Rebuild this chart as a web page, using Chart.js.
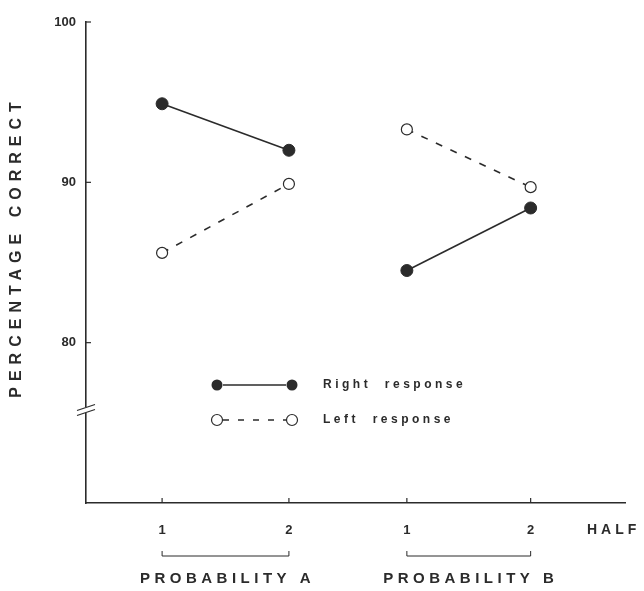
<!DOCTYPE html>
<html lang="en">
<head>
<meta charset="UTF-8">
<title>Percentage correct by half</title>
<script src="https://cdn.jsdelivr.net/npm/chart.js"></script>
<style>
  body { margin: 0; background: #fff; }
  #wrap { width: 644px; height: 591px; }
</style>
</head>
<body>
<div id="wrap"><canvas id="chart" width="644" height="591"></canvas></div>
<script>
// values
const halfLabels = ['1', '2', '1', '2'];
const halfPositions = [1, 2, 2.93, 3.906];
const rightResponse = [94.9, 92.0, 84.5, 88.4];
const leftResponse = [85.6, 89.9, 93.3, 89.7];
const groupNames = ['PROBABILITY A', 'PROBABILITY B'];
const seriesNames = ['Right  response', 'Left  response'];
const yTicks = [80, 90, 100];
const yBreak = 75.8;

const ink = '#2b2b2b';
const boldFont = (size) => 'bold ' + size + 'px "Liberation Sans", Arial, sans-serif';

function toPoints(values) {
    return values.map((v, i) => ({ x: halfPositions[i], y: v }));
}
// no line between the last half of A and the first half of B
const splitGroups = (color) => (ctx) => ctx.p0DataIndex === 1 ? 'transparent' : color;

const decorations = {
    id: 'decorations',
    afterDraw(chart) {
        const ctx = chart.ctx;
        const area = chart.chartArea;
        const x = chart.scales.x;
        const y = chart.scales.y;
        ctx.save();
        ctx.strokeStyle = ink;
        ctx.fillStyle = ink;

        // small inward ticks
        ctx.lineWidth = 1.2;
        yTicks.forEach(v => {
            const py = y.getPixelForValue(v);
            ctx.beginPath();
            ctx.moveTo(area.left, py);
            ctx.lineTo(area.left + 5, py);
            ctx.stroke();
        });
        halfPositions.forEach(v => {
            const px = x.getPixelForValue(v);
            ctx.beginPath();
            ctx.moveTo(px, area.bottom);
            ctx.lineTo(px, area.bottom - 5);
            ctx.stroke();
        });

        // axis break
        const by = y.getPixelForValue(yBreak);
        ctx.fillStyle = '#fff';
        ctx.fillRect(area.left - 3, by - 3, 6, 6);
        ctx.lineWidth = 1.3;
        [-2.5, 2.5].forEach(d => {
            ctx.beginPath();
            ctx.moveTo(area.left - 9, by + d + 3);
            ctx.lineTo(area.left + 9, by + d - 3);
            ctx.stroke();
        });
        ctx.fillStyle = ink;

        // y title
        ctx.save();
        ctx.translate(17, 250);
        ctx.rotate(-Math.PI / 2);
        ctx.font = boldFont(16);
        ctx.letterSpacing = '6px';
        ctx.textAlign = 'center';
        ctx.textBaseline = 'middle';
        ctx.fillText('PERCENTAGE CORRECT', 3, 0);
        ctx.restore();

        // HALF
        ctx.font = boldFont(14);
        ctx.letterSpacing = '4px';
        ctx.textAlign = 'left';
        ctx.textBaseline = 'middle';
        ctx.fillText('HALF', 587, 530);

        // group brackets and names
        groupNames.forEach((name, g) => {
            const x0 = x.getPixelForValue(halfPositions[g * 2]);
            const x1 = x.getPixelForValue(halfPositions[g * 2 + 1]);
            const yb = area.bottom + 53;
            ctx.lineWidth = 1;
            ctx.beginPath();
            ctx.moveTo(x0, yb - 5);
            ctx.lineTo(x0, yb);
            ctx.lineTo(x1, yb);
            ctx.lineTo(x1, yb - 5);
            ctx.stroke();
            ctx.font = boldFont(15);
            ctx.letterSpacing = '4.5px';
            ctx.textAlign = 'center';
            ctx.fillText(name, (x0 + x1) / 2 + 2, area.bottom + 76);
        });

        // legend
        const lx0 = area.left + 131, lx1 = area.left + 206, tx = area.left + 237;
        const rows = [area.top + 363, area.top + 398];
        rows.forEach((ry, i) => {
            ctx.lineWidth = 1.4;
            ctx.setLineDash(i === 0 ? [] : [6, 9]);
            ctx.beginPath();
            ctx.moveTo(lx0 + 6, ry);
            ctx.lineTo(lx1 - 6, ry);
            ctx.stroke();
            ctx.setLineDash([]);
            [lx0, lx1].forEach(px => {
                ctx.beginPath();
                ctx.arc(px, ry, 5.5, 0, Math.PI * 2);
                if (i === 0) {
                    ctx.fillStyle = ink;
                    ctx.fill();
                } else {
                    ctx.fillStyle = '#fff';
                    ctx.fill();
                    ctx.lineWidth = 1.2;
                    ctx.stroke();
                }
            });
            ctx.fillStyle = ink;
            ctx.font = boldFont(12);
            ctx.letterSpacing = '3.5px';
            ctx.textAlign = 'left';
            ctx.fillText(seriesNames[i], tx, ry);
        });
        ctx.restore();
    }
};

new Chart(document.getElementById('chart'), {
    type: 'line',
    data: {
        datasets: [{
            label: seriesNames[0],
            data: toPoints(rightResponse),
            borderColor: ink,
            borderWidth: 1.6,
            segment: { borderColor: splitGroups(ink) },
            pointRadius: 6,
            pointBackgroundColor: ink,
            pointBorderColor: ink,
            pointBorderWidth: 1
        }, {
            label: seriesNames[1],
            data: toPoints(leftResponse),
            borderColor: ink,
            borderWidth: 1.6,
            borderDash: [7, 9],
            segment: { borderColor: splitGroups(ink) },
            pointRadius: 5.5,
            pointBackgroundColor: '#fff',
            pointBorderColor: ink,
            pointBorderWidth: 1.2
        }]
    },
    options: {
        responsive: false,
        animation: false,
        layout: { padding: { top: 22, right: 19, left: 0, bottom: 0 } },
        plugins: { legend: { display: false }, tooltip: { enabled: false } },
        scales: {
            x: {
                type: 'linear',
                min: 0.4,
                max: 4.65,
                afterBuildTicks: (s) => { s.ticks = halfPositions.map(v => ({ value: v })); },
                afterFit: (s) => { s.height = 88; },
                grid: { display: false, drawTicks: false },
                border: { color: ink, width: 1.6 },
                ticks: {
                    color: ink,
                    font: { family: '"Liberation Sans", Arial, sans-serif', weight: 'bold', size: 13 },
                    padding: 20,
                    autoSkip: false,
                    maxRotation: 0,
                    callback: (v, i) => halfLabels[i]
                }
            },
            y: {
                min: 70,
                max: 100,
                afterBuildTicks: (s) => { s.ticks = yTicks.map(v => ({ value: v })); },
                afterFit: (s) => { s.width = 86; },
                grid: { display: false, drawTicks: false },
                border: { color: ink, width: 1.6 },
                ticks: {
                    color: ink,
                    font: { family: '"Liberation Sans", Arial, sans-serif', weight: 'bold', size: 13 },
                    padding: 10
                }
            }
        }
    },
    plugins: [decorations]
});
</script>
</body>
</html>
